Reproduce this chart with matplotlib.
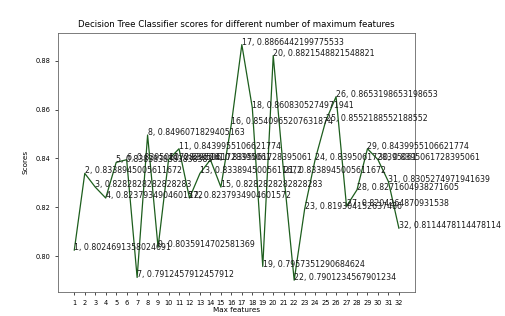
import numpy as np
import matplotlib
matplotlib.use("Agg")
import matplotlib.pyplot as plt

# max_features tried and the resulting accuracy
max_features = list(range(1, 33))
scores = [0.8024691358024691, 0.8338945005611672, 0.8282828282828283, 0.8237934904601572,
          0.8383838383838383, 0.8395061728395061, 0.7912457912457912, 0.8496071829405163,
          0.8035914702581369, 0.8395061728395061, 0.8439955106621774, 0.8237934904601572,
          0.8338945005611672, 0.8395061728395061, 0.8282828282828283, 0.8540965207631874,
          0.8866442199775533, 0.8608305274971941, 0.7957351290684624, 0.8821548821548821,
          0.8338945005611672, 0.7901234567901234, 0.8193041526374860, 0.8395061728395061,
          0.8552188552188552, 0.8653198653198653, 0.8204264870931538, 0.8271604938271605,
          0.8439955106621774, 0.8395061728395061, 0.8305274971941639, 0.8114478114478114]
yticks = [0.80, 0.82, 0.84, 0.86, 0.88]

fig = plt.figure(figsize=(5.05, 3.16), dpi=100)
ax = fig.add_axes([0.115, 0.076, 0.707, 0.82])

ax.plot(max_features, scores, color='#1d5e1d', linewidth=0.9)
for i, s in zip(max_features, scores):
    ax.annotate(f"{i}, {s}", (i, s), fontsize=5.7, color='#1a1a1a')

ax.set_xticks(max_features)
ax.set_yticks(yticks)
ax.tick_params(labelsize=4.8, length=2, width=0.5)
for sp in ax.spines.values():
    sp.set_linewidth(0.6)
    sp.set_color('#666666')

ax.set_title("Decision Tree Classifier scores for different number of maximum features", fontsize=6.2, pad=4)
ax.set_xlabel("Max features", fontsize=5.2, labelpad=1)
ax.set_ylabel("Scores", fontsize=5.2, labelpad=5)

fig.savefig("out.png", dpi=100)
